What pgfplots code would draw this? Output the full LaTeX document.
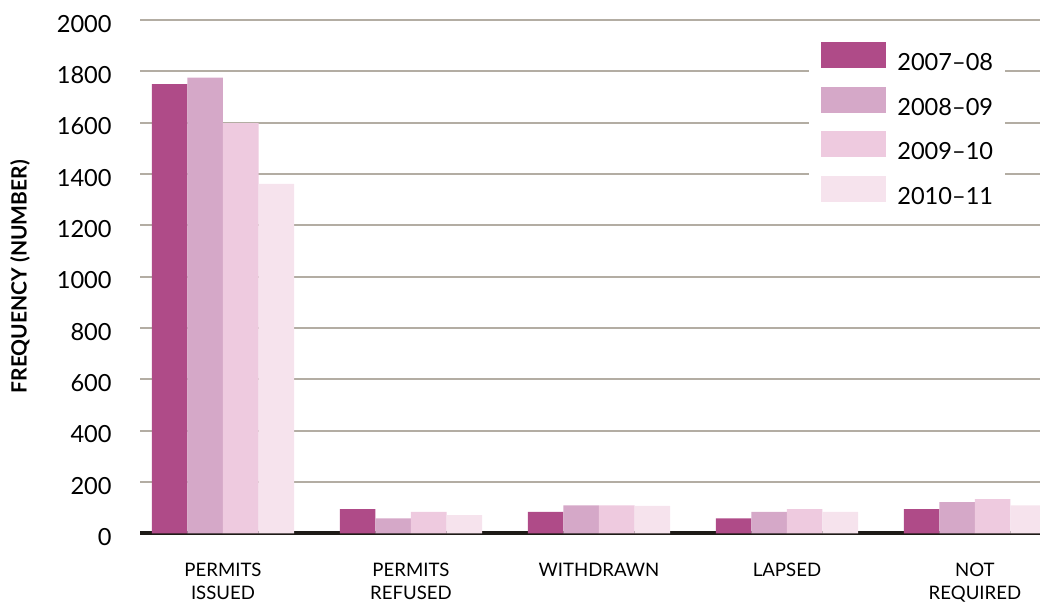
\documentclass[border=0pt]{standalone}
\usepackage{fontspec}
\setmainfont{Lato}
\usepackage{pgfplots}
\pgfplotsset{compat=1.18}

\definecolor{cA}{HTML}{AF4B88}
\definecolor{cB}{HTML}{D5A8C8}
\definecolor{cC}{HTML}{EECADF}
\definecolor{cD}{HTML}{F6E3ED}
\definecolor{gridgray}{HTML}{B3ADA3}
\definecolor{baseblack}{HTML}{1E1B17}

\pgfplotsset{
    swatch/.style={legend image code/.code={\fill[##1] (0pt,-2.3pt) rectangle (32.5pt,10.7pt);}},
}

\begin{document}
\begin{tikzpicture}
\path[use as bounding box] (0,0) rectangle (520pt,302pt);
\begin{axis}[
    at={(70pt,35.25pt)}, anchor=south west,
    scale only axis,
    width=450pt, height=256.75pt,
    xmin=-0.4415, xmax=4.346,
    ymin=0, ymax=2000,
    ytick={0,200,...,2000},
    xtick={0,1,2,3,4},
    xticklabels={PERMITS\\ISSUED,PERMITS\\REFUSED,WITHDRAWN,LAPSED,NOT\\REQUIRED},
    major tick length=0pt,
    axis x line*=bottom,
    axis y line*=left,
    x axis line style={draw=baseblack, line width=2pt, -},
    y axis line style={draw=none},
    ymajorgrids=true,
    grid style={draw=gridgray, line width=1pt},
    /pgf/number format/assume math mode=true,
    /pgf/number format/1000 sep={},
    yticklabel style={font=\fontsize{11.8}{14}\selectfont, inner sep=0pt, anchor=east, xshift=-14pt, yshift=-1.8pt},
    xticklabel style={font=\fontsize{9.3}{11.5}\selectfont, align=center, inner sep=0pt, anchor=north, yshift=-14.5pt},
    ylabel={FREQUENCY (NUMBER)},
    ylabel style={font=\fontsize{10.5}{12}\selectfont\bfseries, at={(axis description cs:-0.1333,0.5)}, anchor=center},
    ybar=0pt,
    bar width=0.189,
    swatch,
    legend style={at={(rel axis cs:0.7433,0.9805)}, anchor=north west,
        draw=none, fill=white, inner xsep=6pt, inner ysep=6pt,
        font=\fontsize{11.8}{14}\selectfont,
        nodes={inner sep=0pt},
        column sep=5.5pt, row sep=6.5pt},
    legend cell align=left,
    clip=true,
]
\addplot[fill=cA, draw=none, bar shift=-0.2835, swatch] coordinates {(0,1750) (1,95) (2,84) (3,59) (4,95)};
\addplot[fill=cB, draw=none, bar shift=-0.0945, swatch] coordinates {(0,1776) (1,59) (2,110) (3,84) (4,122)};
\addplot[fill=cC, draw=none, bar shift=0.0945, swatch] coordinates {(0,1598) (1,84) (2,110) (3,95) (4,134)};
\addplot[fill=cD, draw=none, bar shift=0.2835, swatch] coordinates {(0,1362) (1,72) (2,108) (3,84) (4,110)};
\legend{2007--08,2008--09,2009--10,2010--11}
\end{axis}
\end{tikzpicture}
\end{document}
